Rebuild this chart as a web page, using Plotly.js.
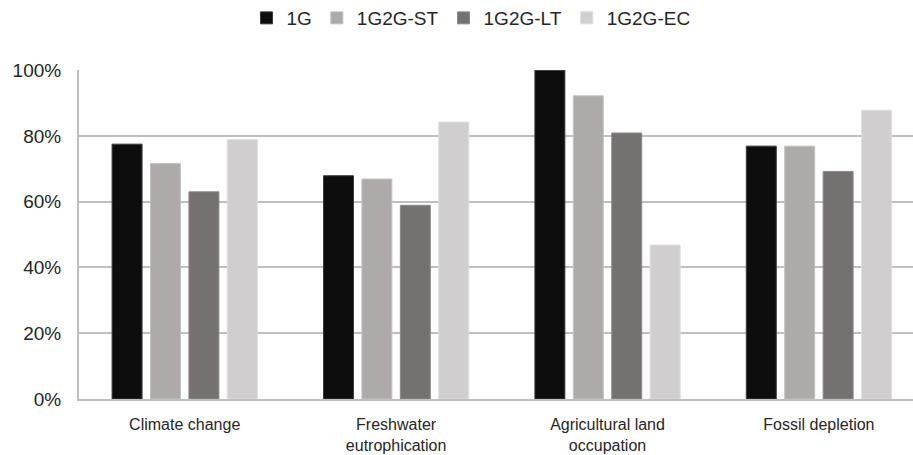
<!DOCTYPE html>
<html>
<head>
<meta charset="utf-8">
<script src="https://cdn.plot.ly/plotly-3.0.1.min.js"></script>
<style>html,body{margin:0;padding:0;background:#fff;}#chart{width:913px;height:455px;}</style>
</head>
<body>
<div id="chart"></div>
<script>
const categories = ["Climate change", "Freshwater<br>eutrophication", "Agricultural land<br>occupation", "Fossil depletion"];
const seriesNames = ["1G", "1G2G-ST", "1G2G-LT", "1G2G-EC"];
const values1G   = [0.775, 0.679, 1.000, 0.769];
const values1G2GST = [0.716, 0.669, 0.922, 0.769];
const values1G2GLT = [0.630, 0.589, 0.809, 0.692];
const values1G2GEC = [0.789, 0.842, 0.468, 0.878];
const yTicks = [0, 0.2, 0.4, 0.6, 0.8, 1.0];
const yTickLabels = ["0%", "20%", "40%", "60%", "80%", "100%"];

const colors = ["#0d0d0d", "#aeaaaa", "#767171", "#d0cece"];
const lineColors = ["#3a3a3a", "#c4c1c1", "#8c8888", "#dedcdc"];
const allValues = [values1G, values1G2GST, values1G2GLT, values1G2GEC];

const traces = allValues.map((v, i) => ({
  type: "bar",
  name: seriesNames[i],
  x: categories,
  y: v,
  marker: {color: colors[i], line: {color: lineColors[i], width: 1}},
  hoverinfo: "skip"
}));

const layout = {
  width: 913, height: 455,
  margin: {l: 79, r: 0, t: 70, b: 56, pad: 0, autoexpand: false},
  paper_bgcolor: "#fff", plot_bgcolor: "#fff",
  barmode: "group", bargap: 0.273, bargroupgap: 0.22,
  font: {family: "Liberation Sans, Arial, sans-serif", color: "#262626", size: 18},
  showlegend: true,
  legend: {orientation: "h", x: 0.47, xanchor: "center", y: 1.158, yanchor: "middle",
           font: {size: 19, color: "#262626"}, itemwidth: 30, traceorder: "normal"},
  xaxis: {
    type: "category", range: [-0.5, 3.445], fixedrange: true,
    showline: true, linecolor: "#bfbfbf", linewidth: 2,
    ticks: "", showgrid: false, zeroline: false, automargin: false,
    tickfont: {family: "Liberation Sans, Arial, sans-serif", size: 16, color: "#262626"},
    ticklabelstandoff: 10
  },
  yaxis: {
    range: [0, 1.0005], fixedrange: true, automargin: false,
    tickvals: yTicks, ticktext: yTickLabels,
    showline: true, linecolor: "#bfbfbf", linewidth: 2,
    showgrid: true, gridcolor: "#bfbfbf", gridwidth: 2,
    zeroline: false, ticks: "",
    tickfont: {size: 19, color: "#262626"},
    ticklabelstandoff: 12
  }
};

Plotly.newPlot("chart", traces, layout, {displayModeBar: false, staticPlot: true});
</script>
</body>
</html>
